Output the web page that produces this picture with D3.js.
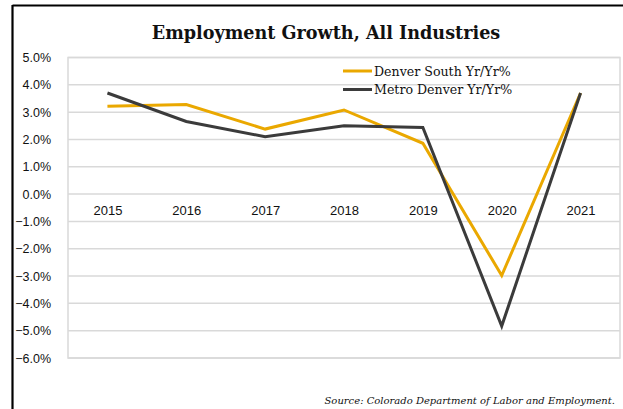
<!DOCTYPE html>
<html>
<head>
<meta charset="utf-8">
<script src="https://d3js.org/d3.v7.min.js"></script>
<style>
  body { margin: 0; background: #fff; }
</style>
</head>
<body>
<div id="chart"></div>
<script>
// data
var years = ["2015", "2016", "2017", "2018", "2019", "2020", "2021"];
var denverSouth = [3.22, 3.28, 2.38, 3.08, 1.86, -2.98, 3.7];
var metroDenver = [3.7, 2.66, 2.1, 2.5, 2.44, -4.83, 3.7];
var seriesNames = ["Denver South Yr/Yr%", "Metro Denver Yr/Yr%"];
var seriesColors = ["#EAA800", "#3B3B3B"];
var yTicks = [5, 4, 3, 2, 1, 0, -1, -2, -3, -4, -5, -6];

var W = 623, H = 409;
var margin = {top: 57.5, right: 3, bottom: 51, left: 68},
    width = W - margin.left - margin.right,
    height = H - margin.top - margin.bottom;

var svg = d3.select("#chart")
  .append("svg")
    .attr("width", W)
    .attr("height", H);

// outer frame (top + left edges visible)
svg.append("line")
  .attr("x1", 12.5).attr("x2", 623).attr("y1", 5.5).attr("y2", 5.5)
  .attr("stroke", "#000").attr("stroke-width", 2.2);
svg.append("line")
  .attr("x1", 12.5).attr("x2", 12.5).attr("y1", 5).attr("y2", H)
  .attr("stroke", "#000").attr("stroke-width", 2.2);

svg.append("text")
  .attr("x", 326).attr("y", 39)
  .attr("text-anchor", "middle")
  .attr("font-family", "DejaVu Serif")
  .attr("font-weight", "bold")
  .attr("font-size", 17.6)
  .attr("fill", "#111")
  .text("Employment Growth, All Industries");

var g = svg.append("g")
  .attr("transform", "translate(" + margin.left + "," + margin.top + ")");

var x = d3.scalePoint()
  .domain(years)
  .range([0, width])
  .padding(0.5);

var y = d3.scaleLinear()
  .domain([-6, 5])
  .range([height, 0]);

// gridlines
g.selectAll(".grid")
  .data(yTicks)
  .enter()
  .append("line")
    .attr("x1", 0).attr("x2", width)
    .attr("y1", function(d) { return y(d); })
    .attr("y2", function(d) { return y(d); })
    .attr("stroke", "#D9D9D9")
    .attr("stroke-width", 1.5);

g.append("rect")
  .attr("width", width).attr("height", height)
  .attr("fill", "none")
  .attr("stroke", "#D9D9D9")
  .attr("stroke-width", 1.5);

// y axis labels
var yAxis = g.append("g")
  .attr("transform", "translate(-14,0)")
  .call(d3.axisLeft(y).tickValues(yTicks).tickSize(0)
    .tickFormat(function(d) { return d3.format(".1f")(d) + "%"; }));
yAxis.select(".domain").remove();
yAxis.selectAll("text")
  .attr("font-family", "Liberation Sans")
  .attr("font-size", 12.5)
  .attr("fill", "#111");

// x axis labels sitting under the zero line
var xAxis = g.append("g")
  .attr("transform", "translate(0," + y(0) + ")")
  .call(d3.axisBottom(x).tickSize(0).tickPadding(12));
xAxis.select(".domain").remove();
xAxis.selectAll("text")
  .attr("font-family", "Liberation Sans")
  .attr("font-size", 13)
  .attr("fill", "#111");

var series = [denverSouth, metroDenver];

var line = d3.line()
  .x(function(d, i) { return x(years[i]); })
  .y(function(d) { return y(d); });

[0, 1].forEach(function(k) {
  g.append("path")
    .datum(series[k])
    .attr("fill", "none")
    .attr("stroke", seriesColors[k])
    .attr("stroke-width", 3)
    .attr("stroke-linejoin", "miter")
    .attr("d", line);
});

// legend
var legend = svg.append("g");
seriesNames.forEach(function(name, k) {
  var ly = 71 + k * 18.5;
  legend.append("line")
    .attr("x1", 343).attr("x2", 372)
    .attr("y1", ly).attr("y2", ly)
    .attr("stroke", seriesColors[k])
    .attr("stroke-width", 3);
  legend.append("text")
    .attr("x", 374).attr("y", ly + 4.5)
    .attr("font-family", "DejaVu Serif")
    .attr("font-size", 12.6)
    .attr("fill", "#111")
    .text(name);
});

svg.append("text")
  .attr("x", 615).attr("y", 404)
  .attr("text-anchor", "end")
  .attr("font-family", "DejaVu Serif")
  .attr("font-style", "italic")
  .attr("font-size", 10)
  .attr("fill", "#111")
  .text("Source: Colorado Department of Labor and Employment.");
</script>
</body>
</html>
